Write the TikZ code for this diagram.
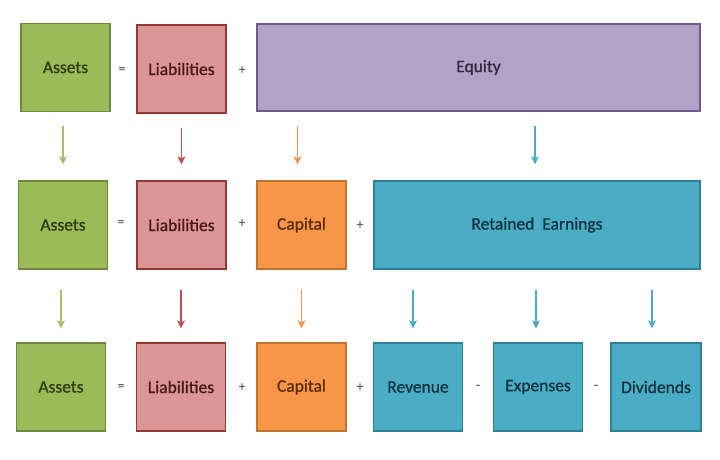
\documentclass[tikz,border=0pt]{standalone}
\usepackage{fontspec}
\setmainfont{Carlito}
\newfontfamily\boxfont[FakeBold=0.9]{Carlito}
\usepackage{xcolor}
\usepackage{tikz}
\usetikzlibrary{calc}
\usetikzlibrary{arrows.meta}

\definecolor{asfill}{HTML}{9BBB59}
\definecolor{asline}{HTML}{71893F}
\definecolor{astext}{HTML}{2E3D14}
\definecolor{asarrow}{HTML}{A4C06A}
\definecolor{lifill}{HTML}{D99694}
\definecolor{liline}{HTML}{953735}
\definecolor{litext}{HTML}{4A1918}
\definecolor{liarrow}{HTML}{C0504D}
\definecolor{eqfill}{HTML}{B3A2C7}
\definecolor{eqline}{HTML}{6E5A8A}
\definecolor{eqtext}{HTML}{33283F}
\definecolor{cafill}{HTML}{F79646}
\definecolor{caline}{HTML}{C0742F}
\definecolor{catext}{HTML}{5A2A04}
\definecolor{caarrow}{HTML}{F19650}
\definecolor{refill}{HTML}{4BACC6}
\definecolor{reline}{HTML}{2F7F96}
\definecolor{retext}{HTML}{12343F}
\definecolor{rearrow}{HTML}{52A9C2}
\definecolor{opgray}{HTML}{606060}

\tikzset{acct/.style={draw, line width=1.3pt, minimum width=89pt, minimum height=88pt, inner sep=0, font=\boxfont\fontsize{17.5}{19}\selectfont}}
\tikzset{oper/.style={text=opgray, inner sep=0, font=\boxfont\fontsize{13}{14}\selectfont}}
\tikzset{flow/.style={line width=1.5pt, -{Stealth[length=8pt, width=8pt, inset=2pt]}, shorten <=14pt, shorten >=16pt}}

\begin{document}
\begin{tikzpicture}[x=1pt, y=-1pt]
\useasboundingbox (0,0) rectangle (720,460);
% first row
\node[acct, fill=asfill, draw=asline, text=astext] (as1) at (65.5,67.5) {Assets};
\node[acct, fill=lifill, draw=liline, text=litext] (li1) at (181.5,69) {Liabilities};
\node[acct, fill=eqfill, draw=eqline, text=eqtext, minimum width=443pt, minimum height=87pt] (eq1) at (478.5,67.5) {Equity};
\node[oper] (o11) at (122,70) {=};
\node[oper] (o12) at (242,70) {+};
% second row
\node[acct, fill=asfill, draw=asline, text=astext] (as2) at (63,225) {Assets};
\node[acct, fill=lifill, draw=liline, text=litext] (li2) at (181.5,225) {Liabilities};
\node[acct, fill=cafill, draw=caline, text=catext] (ca2) at (301.5,225) {Capital};
\node[acct, fill=refill, draw=reline, text=retext, minimum width=326pt] (re2) at (537,225) {Retained\ \ Earnings};
\node[oper] (o21) at (121,223) {=};
\node[oper] (o22) at (242,223) {+};
\node[oper] (o23) at (360,225) {+};
% third row
\node[acct, fill=asfill, draw=asline, text=astext] (as3) at (61,387) {Assets};
\node[acct, fill=lifill, draw=liline, text=litext] (li3) at (181,387) {Liabilities};
\node[acct, fill=cafill, draw=caline, text=catext] (ca3) at (301.5,387) {Capital};
\node[acct, fill=refill, draw=reline, text=retext] (rv3) at (418,387) {Revenue};
\node[acct, fill=refill, draw=reline, text=retext] (ex3) at (538,387) {Expenses};
\node[acct, fill=refill, draw=reline, text=retext, minimum width=90pt] (dv3) at (656,387) {Dividends};
\node[oper] (o31) at (121,387) {=};
\node[oper] (o32) at (242,387) {+};
\node[oper] (o33) at (360,387) {+};
\node[oper] (o34) at (478,387) {-};
\node[oper] (o35) at (596,387) {-};
% arrows
\draw[flow, asarrow] (as1.south -| as2.north) -- (as2.north);
\draw[flow, liarrow] (li1.south) -- (li2.north);
\draw[flow, caarrow] ($(ca2.north |- eq1.south)+(-4,0)$) -- ($(ca2.north)+(-4,0)$);
\draw[flow, rearrow] ($(re2.north |- eq1.south)+(-2,0)$) -- ($(re2.north)+(-2,0)$);
\foreach \a/\b/\c in {as2/as3/asarrow, li2/li3/liarrow, ca2/ca3/caarrow} {
 \draw[flow, \c, shorten <=20pt, shorten >=14pt] (\b.north |- \a.south) -- (\b.north);
}
\foreach \b/\dx in {rv3/-5, ex3/-2, dv3/-4} {
 \draw[flow, rearrow, shorten <=20pt, shorten >=14pt] ($(\b.north |- re2.south)+(\dx,0)$) -- ($(\b.north)+(\dx,0)$);
}
\end{tikzpicture}
\end{document}
